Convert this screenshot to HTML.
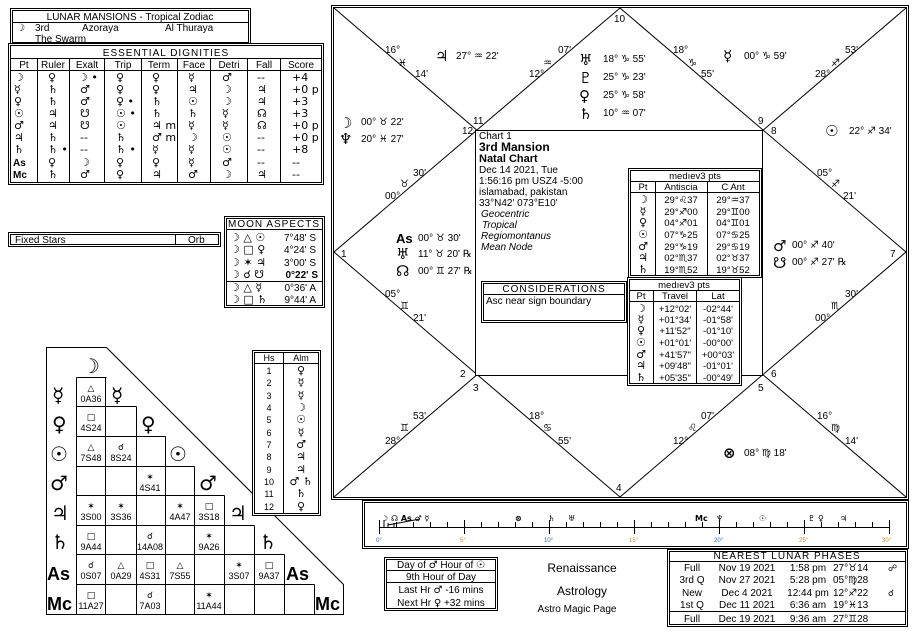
<!DOCTYPE html>
<html><head><meta charset="utf-8"><style>
html,body{margin:0;padding:0;background:#fff}
svg{display:block;font-family:"Liberation Sans","DejaVu Sans",sans-serif;font-size:10px}
text{fill:#000}
.g,.g text{font-family:"DejaVu Sans",sans-serif}
.b{font-weight:bold}
.m,.m text{text-anchor:middle}
</style></head><body>
<svg width="916" height="633" viewBox="0 0 916 633" xmlns="http://www.w3.org/2000/svg" fill="none" stroke="#000" stroke-width="1">
<!-- LUNAR MANSIONS -->
<rect x="10.5" y="8.5" width="240" height="36"/><rect x="12.5" y="10.5" width="236" height="32"/>
<line x1="13" y1="22.5" x2="248" y2="22.5"/>
<g stroke="none">
<text x="130" y="20" class="m">LUNAR MANSIONS - Tropical Zodiac</text>
<text x="16" y="31" class="g b">☽</text><text x="35" y="31">3rd</text><text x="82" y="31">Azoraya</text><text x="165" y="31">Al Thuraya</text>
<text x="35" y="42">The Swarm</text>
</g>
<!-- ESSENTIAL DIGNITIES -->
<rect x="8.5" y="43.5" width="315" height="141" fill="#fff"/><rect x="10.5" y="45.5" width="311" height="137"/>
<line x1="11" y1="58.5" x2="321" y2="58.5"/><line x1="11" y1="70.5" x2="321" y2="70.5"/>
<g>
<line x1="37.5" y1="59" x2="37.5" y2="182"/><line x1="69.5" y1="59" x2="69.5" y2="182"/><line x1="104.5" y1="59" x2="104.5" y2="182"/><line x1="141.5" y1="59" x2="141.5" y2="182"/><line x1="177.5" y1="59" x2="177.5" y2="182"/><line x1="210.5" y1="59" x2="210.5" y2="182"/><line x1="247.5" y1="59" x2="247.5" y2="182"/><line x1="280.5" y1="59" x2="280.5" y2="182"/>
</g>
<g stroke="none">
<text x="166" y="56" class="m" style="letter-spacing:1px">ESSENTIAL DIGNITIES</text>
<text x="24" y="68" class="m">Pt</text><text x="53" y="68" class="m">Ruler</text><text x="87" y="68" class="m">Exalt</text><text x="123" y="68" class="m">Trip</text><text x="159" y="68" class="m">Term</text><text x="194" y="68" class="m">Face</text><text x="229" y="68" class="m">Detri</text><text x="264" y="68" class="m">Fall</text><text x="301" y="68" class="m">Score</text>
</g>
<g stroke="none" class="g" style="font-size:11px">
<text x="14" y="81" class="b">☽</text><text x="48" y="81">♀</text><text x="78" y="81">☽ •</text><text x="116" y="81">♀</text><text x="152" y="81">♀</text><text x="188" y="81">☿</text><text x="222" y="81">♂</text><text x="257" y="81">--</text><text x="292" y="81">+4</text>
<text x="14" y="93" class="b">☿</text><text x="48" y="93">♄</text><text x="80" y="93">♂</text><text x="116" y="93">♀</text><text x="152" y="93">♀</text><text x="188" y="93">♃</text><text x="222" y="93">☽</text><text x="257" y="93">♃</text><text x="292" y="93">+0  p</text>
<text x="14" y="105" class="b">♀</text><text x="48" y="105">♄</text><text x="80" y="105">♂</text><text x="116" y="105">♀ •</text><text x="152" y="105">♄</text><text x="188" y="105">☉</text><text x="222" y="105">☽</text><text x="257" y="105">♃</text><text x="292" y="105">+3</text>
<text x="14" y="117" class="b">☉</text><text x="48" y="117">♃</text><text x="80" y="117">☋</text><text x="116" y="117">☉ •</text><text x="152" y="117">♄</text><text x="188" y="117">♄</text><text x="222" y="117">☿</text><text x="257" y="117">☊</text><text x="292" y="117">+3</text>
<text x="14" y="129" class="b">♂</text><text x="48" y="129">♃</text><text x="80" y="129">☋</text><text x="116" y="129">☉</text><text x="152" y="129">♃  m</text><text x="188" y="129">☿</text><text x="222" y="129">☿</text><text x="257" y="129">☊</text><text x="292" y="129">+0  p</text>
<text x="14" y="141" class="b">♃</text><text x="48" y="141">♄</text><text x="80" y="141">--</text><text x="116" y="141">♄</text><text x="152" y="141">♂  m</text><text x="188" y="141">☽</text><text x="222" y="141">☉</text><text x="257" y="141">--</text><text x="292" y="141">+0  p</text>
<text x="14" y="153" class="b">♄</text><text x="48" y="153">♄ •</text><text x="80" y="153">--</text><text x="116" y="153">♄ •</text><text x="152" y="153">☿</text><text x="188" y="153">☿</text><text x="222" y="153">☉</text><text x="257" y="153">--</text><text x="292" y="153">+8</text>
<text x="13" y="166" class="b" style="font-family:'Liberation Sans';font-size:10px">As</text><text x="48" y="166">♀</text><text x="80" y="166">☽</text><text x="116" y="166">♀</text><text x="152" y="166">♀</text><text x="188" y="166">☿</text><text x="222" y="166">♂</text><text x="257" y="166">--</text><text x="292" y="166">--</text>
<text x="13" y="178" class="b" style="font-family:'Liberation Sans';font-size:10px">Mc</text><text x="48" y="178">♄</text><text x="80" y="178">♂</text><text x="116" y="178">♀</text><text x="152" y="178">♃</text><text x="188" y="178">♂</text><text x="222" y="178">☽</text><text x="257" y="178">♃</text><text x="292" y="178">--</text>
</g>
<!-- FIXED STARS -->
<rect x="8.5" y="232.5" width="212" height="14"/><rect x="10.5" y="234.5" width="208" height="10"/>
<line x1="175.5" y1="235" x2="175.5" y2="245"/>
<g stroke="none"><text x="15" y="243">Fixed Stars</text><text x="188" y="243">Orb</text></g>
<!-- MOON ASPECTS -->
<rect x="224.5" y="216.5" width="100" height="91"/><rect x="226.5" y="218.5" width="96" height="87"/>
<line x1="227" y1="229.5" x2="322" y2="229.5"/><line x1="227" y1="281.5" x2="322" y2="281.5"/>
<g stroke="none">
<text x="274" y="227" class="m" style="letter-spacing:1px">MOON ASPECTS</text>
<g class="g" style="font-size:11px"><text x="230" y="241">☽  △  ☉</text><text x="230" y="253">☽  □  ♀</text><text x="230" y="266">☽  ✶  ♃</text><text x="230" y="278">☽  ☌  ☋</text><text x="230" y="291">☽  △  ☿</text><text x="230" y="303">☽  □  ♄</text></g>
<text x="316" y="241" style="text-anchor:end">7°48' S</text><text x="316" y="253" style="text-anchor:end">4°24' S</text><text x="316" y="266" style="text-anchor:end">3°00' S</text><text x="318" y="278" class="b" style="text-anchor:end">0°22' S</text><text x="316" y="291" style="text-anchor:end">0°36' A</text><text x="316" y="303" style="text-anchor:end">9°44' A</text>
</g>
<!-- ASPECT GRID -->
<polygon points="46.5,347.5 106.5,347.5 343.5,584.5 343.5,614.5 46.5,614.5"/>
<g>
<path d="M76.5 377.5H106.5M76.5 406.5H136.5M76.5 436.5H165.5M76.5 466.5H194.5M76.5 495.5H224.5M76.5 525.5H254.5M76.5 554.5H284.5M76.5 584.5H314.5"/>
<path d="M76.5 377.5V614.5M105.5 377.5V614.5M136.5 406.5V614.5M165.5 436.5V614.5M194.5 466.5V614.5M224.5 495.5V614.5M254.5 525.5V614.5M284.5 554.5V614.5M314.5 584.5V614.5"/>
</g>
<g stroke="none" class="g b" style="font-size:20px">
<text x="82" y="373">☽</text><text x="52" y="402">☿</text><text x="111" y="402">☿</text><text x="52" y="431">♀</text><text x="141" y="431">♀</text><text x="50" y="461">☉</text><text x="169" y="461">☉</text><text x="50" y="490">♂</text><text x="199" y="490">♂</text><text x="51" y="520">♃</text><text x="229" y="520">♃</text><text x="51" y="549">♄</text><text x="259" y="549">♄</text>
</g>
<g stroke="none" style="font-weight:bold;font-size:18px">
<text x="47" y="580">As</text><text x="286" y="580">As</text><text x="47" y="610">Mc</text><text x="315" y="610">Mc</text>
</g>
<g stroke="none" class="m" style="font-size:9px">
<text x="91" y="391" class="g">△</text><text x="91" y="402">0A36</text>
<text x="91" y="420" class="g">□</text><text x="91" y="431">4S24</text>
<text x="91" y="450" class="g">△</text><text x="91" y="461">7S48</text><text x="121" y="450" class="g">☌</text><text x="121" y="461">8S24</text>
<text x="150" y="480" class="g">✶</text><text x="150" y="491">4S41</text>
<text x="91" y="509" class="g">✶</text><text x="91" y="520">3S00</text><text x="121" y="509" class="g">✶</text><text x="121" y="520">3S36</text><text x="180" y="509" class="g">✶</text><text x="180" y="520">4A47</text><text x="209" y="509" class="g">□</text><text x="209" y="520">3S18</text>
<text x="91" y="539" class="g">□</text><text x="91" y="550">9A44</text><text x="150" y="539" class="g">☌</text><text x="150" y="550">14A08</text><text x="209" y="539" class="g">✶</text><text x="209" y="550">9A26</text>
<text x="91" y="568" class="g">☌</text><text x="91" y="579">0S07</text><text x="121" y="568" class="g">△</text><text x="121" y="579">0A29</text><text x="150" y="568" class="g">□</text><text x="150" y="579">4S31</text><text x="180" y="568" class="g">△</text><text x="180" y="579">7S55</text><text x="239" y="568" class="g">✶</text><text x="239" y="579">3S07</text><text x="269" y="568" class="g">□</text><text x="269" y="579">9A37</text>
<text x="91" y="598" class="g">□</text><text x="91" y="609">11A27</text><text x="150" y="598" class="g">☌</text><text x="150" y="609">7A03</text><text x="209" y="598" class="g">✶</text><text x="209" y="609">11A44</text>
</g>
<!-- HS / ALM -->
<rect x="252.5" y="350.5" width="68" height="165" fill="#fff"/><rect x="254.5" y="352.5" width="64" height="161"/>
<line x1="255" y1="363.5" x2="318" y2="363.5"/><line x1="283.5" y1="353" x2="283.5" y2="513"/>
<g stroke="none" class="m" style="font-size:9px">
<text x="269" y="361">Hs</text><text x="301" y="361">Alm</text>
<text x="269" y="374">1</text><text x="269" y="386">2</text><text x="269" y="399">3</text><text x="269" y="411">4</text><text x="269" y="423">5</text><text x="269" y="436">6</text><text x="269" y="448">7</text><text x="269" y="460">8</text><text x="269" y="473">9</text><text x="269" y="485">10</text><text x="269" y="497">11</text><text x="269" y="510">12</text>
<g class="g" style="font-size:11px"><text x="301" y="374">♀</text><text x="301" y="386">☿</text><text x="301" y="399">☿</text><text x="301" y="411">☽</text><text x="301" y="423">☉</text><text x="301" y="436">☿</text><text x="301" y="448">♂</text><text x="301" y="460">♃</text><text x="301" y="473">♃</text><text x="301" y="485">♂ ♄</text><text x="301" y="497">♄</text><text x="301" y="510">♀</text></g>
</g>
<!-- MAIN CHART -->
<rect x="331.5" y="5.5" width="577" height="494"/><rect x="333.5" y="7.5" width="573" height="490"/>
<path d="M334 8L906 497M906 8L334 497M620 8L906 252L620 497L334 252Z"/>
<rect x="475.5" y="130.5" width="287" height="245" fill="#fff"/>
<g stroke="none">
<text x="614" y="22">10</text><text x="616" y="491">4</text><text x="341" y="257">1</text><text x="890" y="257">7</text>
<text x="473" y="124">11</text><text x="462" y="134">12</text><text x="758" y="124">9</text><text x="771" y="134">8</text>
<text x="460" y="377">2</text><text x="473" y="391">3</text><text x="771" y="377">6</text><text x="758" y="391">5</text>
<text x="385" y="53">16°</text><text x="398" y="66" class="g">♓</text><text x="415" y="77">14'</text>
<text x="558" y="53">07'</text><text x="543" y="66" class="g">♒</text><text x="529" y="77">12°</text>
<text x="673" y="53">18°</text><text x="688" y="66" class="g">♑</text><text x="701" y="77">55'</text>
<text x="845" y="53">53'</text><text x="831" y="66" class="g">♐</text><text x="815" y="77">28°</text>
<text x="413" y="176">30'</text><text x="400" y="187" class="g">♉</text><text x="385" y="199">00°</text>
<text x="817" y="176">05°</text><text x="831" y="187" class="g">♐</text><text x="843" y="199">21'</text>
<text x="385" y="297">05°</text><text x="400" y="309" class="g">♊</text><text x="413" y="321">21'</text>
<text x="845" y="297">30'</text><text x="831" y="309" class="g">♏</text><text x="815" y="321">00°</text>
<text x="413" y="419">53'</text><text x="400" y="431" class="g">♊</text><text x="385" y="444">28°</text>
<text x="529" y="419">18°</text><text x="543" y="431" class="g">♋</text><text x="558" y="444">55'</text>
<text x="701" y="419">07'</text><text x="688" y="431" class="g">♌</text><text x="673" y="444">12°</text>
<text x="817" y="419">16°</text><text x="831" y="431" class="g">♍</text><text x="845" y="444">14'</text>
<g class="g" style="font-size:15px;font-weight:bold"><text x="435" y="61">♃</text><text x="579" y="65">♅</text><text x="579" y="83">♇</text><text x="579" y="101">♀</text><text x="579" y="119">♄</text><text x="723" y="61">☿</text><text x="339" y="128">☽</text><text x="339" y="144">♆</text><text x="825" y="136">☉</text><text x="396" y="259">♅</text><text x="396" y="276">☊</text><text x="773" y="251">♂</text><text x="773" y="268">☋</text><text x="723" y="458">⊗</text></g>
<text x="396" y="243" class="b" style="font-size:13px">As</text>
<text x="456" y="59">27° <tspan class="g">♒</tspan> 22'</text>
<text x="603" y="62">18° <tspan class="g">♑</tspan> 55'</text><text x="603" y="80">25° <tspan class="g">♑</tspan> 23'</text><text x="603" y="98">25° <tspan class="g">♑</tspan> 58'</text><text x="603" y="116">10° <tspan class="g">♒</tspan> 07'</text>
<text x="744" y="59">00° <tspan class="g">♑</tspan> 59'</text>
<text x="361" y="125">00° <tspan class="g">♉</tspan> 22'</text><text x="361" y="142">20° <tspan class="g">♓</tspan> 27'</text>
<text x="849" y="134">22° <tspan class="g">♐</tspan> 34'</text>
<text x="418" y="241">00° <tspan class="g">♉</tspan> 30'</text><text x="418" y="257">11° <tspan class="g">♉</tspan> 20' ℞</text><text x="418" y="274">00° <tspan class="g">♊</tspan> 27' ℞</text>
<text x="792" y="248">00° <tspan class="g">♐</tspan> 40'</text><text x="792" y="265">00° <tspan class="g">♐</tspan> 27' ℞</text>
<text x="744" y="456">08° <tspan class="g">♍</tspan> 18'</text>
<!-- center info -->
<text x="479" y="139">Chart 1</text>
<text x="479" y="151" class="b" style="font-size:12px">3rd Mansion</text>
<text x="479" y="162" class="b" style="font-size:11px">Natal Chart</text>
<text x="479" y="173">Dec 14 2021, Tue</text><text x="479" y="184">1:56:16 pm  USZ4 -5:00</text><text x="479" y="195">islamabad, pakistan</text><text x="479" y="206">33°N42' 073°E10'</text>
<g style="font-style:italic"><text x="481" y="217">Geocentric</text><text x="482" y="228">Tropical</text><text x="481" y="239">Regiomontanus</text><text x="481" y="250">Mean Node</text></g>
</g>
<!-- antiscia -->
<rect x="628.5" y="168.5" width="133" height="109" fill="#fff"/><rect x="630.5" y="170.5" width="129" height="105"/>
<path d="M631 181.5H759M631 192.5H759M655.5 182V275M707.5 182V275"/>
<g stroke="none" class="m" style="font-size:9.5px">
<text x="695" y="179">medıev3 pts</text><text x="643" y="190">Pt</text><text x="681" y="190">Antiscia</text><text x="733" y="190">C Ant</text>
<g class="g b" style="font-size:11px"><text x="643" y="203">☽</text><text x="643" y="215">☿</text><text x="643" y="226">♀</text><text x="643" y="238">☉</text><text x="643" y="250">♂</text><text x="643" y="261">♃</text><text x="643" y="273">♄</text></g>
<text x="681" y="203">29°<tspan class="g">♌</tspan>37</text><text x="681" y="215">29°<tspan class="g">♐</tspan>00</text><text x="681" y="226">04°<tspan class="g">♐</tspan>01</text><text x="681" y="238">07°<tspan class="g">♑</tspan>25</text><text x="681" y="250">29°<tspan class="g">♑</tspan>19</text><text x="681" y="261">02°<tspan class="g">♏</tspan>37</text><text x="681" y="273">19°<tspan class="g">♏</tspan>52</text>
<text x="733" y="203">29°<tspan class="g">♒</tspan>37</text><text x="733" y="215">29°<tspan class="g">♊</tspan>00</text><text x="733" y="226">04°<tspan class="g">♊</tspan>01</text><text x="733" y="238">07°<tspan class="g">♋</tspan>25</text><text x="733" y="250">29°<tspan class="g">♋</tspan>19</text><text x="733" y="261">02°<tspan class="g">♉</tspan>37</text><text x="733" y="273">19°<tspan class="g">♉</tspan>52</text>
</g>
<!-- considerations -->
<rect x="481.5" y="281.5" width="145" height="41" fill="#fff"/><rect x="483.5" y="283.5" width="141" height="37"/>
<line x1="484" y1="294.5" x2="624" y2="294.5"/>
<g stroke="none"><text x="554" y="292" class="m" style="letter-spacing:1px">CONSIDERATIONS</text><text x="486" y="304">Asc near sign boundary</text></g>
<!-- travel -->
<rect x="627.5" y="277.5" width="114" height="108" fill="#fff"/><rect x="629.5" y="279.5" width="110" height="104"/>
<path d="M630 290.5H739M630 301.5H739M653.5 291V383M696.5 291V383"/>
<g stroke="none" class="m" style="font-size:9.5px">
<text x="684" y="288">medıev3 pts</text><text x="641" y="299">Pt</text><text x="675" y="299">Travel</text><text x="718" y="299">Lat</text>
<g class="g b" style="font-size:11px"><text x="641" y="312">☽</text><text x="641" y="323">☿</text><text x="641" y="334">♀</text><text x="641" y="346">☉</text><text x="641" y="358">♂</text><text x="641" y="369">♃</text><text x="641" y="381">♄</text></g>
<text x="675" y="312">+12°02'</text><text x="675" y="323">+01°34'</text><text x="675" y="334">+11'52"</text><text x="675" y="346">+01°01'</text><text x="675" y="358">+41'57"</text><text x="675" y="369">+09'48"</text><text x="675" y="381">+05'35"</text>
<text x="718" y="312">-02°44'</text><text x="718" y="323">-01°58'</text><text x="718" y="334">-01°10'</text><text x="718" y="346">-00°00'</text><text x="718" y="358">+00°03'</text><text x="718" y="369">-01°01'</text><text x="718" y="381">-00°49'</text>
</g>
<!-- TIMELINE -->
<rect x="362.5" y="500.5" width="546" height="48"/><rect x="364.5" y="502.5" width="542" height="44"/>
<line x1="379" y1="527.5" x2="890" y2="527.5"/>
<path d="M379.5 520V534M396.5 522V527M413.5 522V527M430.5 522V527M447.5 522V527M464.5 520V534M481.5 522V527M498.5 522V527M515.5 522V527M532.5 522V527M549.5 520V534M566.5 522V527M583.5 522V527M600.5 522V527M617.5 522V527M634.5 520V534M651.5 522V527M668.5 522V527M685.5 522V527M702.5 522V527M719.5 520V534M736.5 522V527M753.5 522V527M770.5 522V527M787.5 522V527M804.5 520V534M821.5 522V527M838.5 522V527M855.5 522V527M872.5 522V527M889.5 520V534"/>
<path d="M384 520L384 528M388 523L388 528M394 523L394 528M388 525L420 519" stroke-width="1"/>
<g stroke="none" style="font-size:6px"><text x="376" y="542" style="fill:#36c">0°</text><text x="460" y="542" style="fill:#c83">5°</text><text x="544" y="542" style="fill:#36c">10°</text><text x="629" y="542" style="fill:#c83">15°</text><text x="714" y="542" style="fill:#36c">20°</text><text x="799" y="542" style="fill:#c83">25°</text><text x="882" y="542" style="fill:#c83">30°</text></g>
<g stroke="none" class="g b" style="font-size:8px"><text x="381" y="521">☽ ☊ As ♂ ☿</text><text x="515" y="521">⊗</text><text x="548" y="521">♄</text><text x="568" y="521">♅</text><text x="695" y="521">Mc</text><text x="716" y="521">♆</text><text x="759" y="521">☉</text><text x="808" y="521">♇</text><text x="818" y="521">♀</text><text x="840" y="521">♃</text></g>
<!-- DAY OF -->
<rect x="384.5" y="557.5" width="113" height="53"/><rect x="386.5" y="559.5" width="109" height="49"/>
<path d="M387 570.5H495M387 582.5H495"/>
<g stroke="none" class="m"><text x="441" y="568">Day of <tspan class="g b">♂</tspan>  Hour of <tspan class="g b">☉</tspan></text><text x="441" y="580">9th Hour of Day</text><text x="441" y="593">Last Hr <tspan class="g">♂</tspan>  -16 mins</text><text x="441" y="606">Next Hr  <tspan class="g">♀</tspan>  +32 mins</text></g>
<g stroke="none" class="m"><text x="582" y="572" style="font-size:12px">Renaissance</text><text x="582" y="595" style="font-size:12px">Astrology</text><text x="577" y="612">Astro Magic Page</text></g>
<!-- LUNAR PHASES -->
<rect x="667.5" y="549.5" width="240" height="77"/><rect x="669.5" y="551.5" width="236" height="73"/>
<path d="M670 561.5H905M670 611.5H905"/>
<g stroke="none">
<text x="787" y="559" class="m" style="letter-spacing:1px">NEAREST LUNAR PHASES</text>
<text x="692" y="571" class="m">Full</text><text x="692" y="583" class="m">3rd Q</text><text x="692" y="596" class="m">New</text><text x="692" y="608" class="m">1st Q</text><text x="692" y="622" class="m">Full</text>
<text x="747" y="571" class="m">Nov 19 2021</text><text x="747" y="583" class="m">Nov 27 2021</text><text x="747" y="596" class="m">Dec 4 2021</text><text x="747" y="608" class="m">Dec 11 2021</text><text x="747" y="622" class="m">Dec 19 2021</text>
<text x="808" y="571" class="m">1:58 pm</text><text x="808" y="583" class="m">5:28 pm</text><text x="808" y="596" class="m">12:44 pm</text><text x="808" y="608" class="m">6:36 am</text><text x="808" y="622" class="m">9:36 am</text>
<text x="833" y="571">27°<tspan class="g">♉</tspan>14</text><text x="833" y="583">05°<tspan class="g">♍</tspan>28</text><text x="833" y="596">12°<tspan class="g">♐</tspan>22</text><text x="833" y="608">19°<tspan class="g">♓</tspan>13</text><text x="833" y="622">27°<tspan class="g">♊</tspan>28</text>
<text x="888" y="571" class="g" style="font-size:9px">☍</text><text x="888" y="596" class="g" style="font-size:9px">☌</text>
</g>
</svg>
</body></html>
